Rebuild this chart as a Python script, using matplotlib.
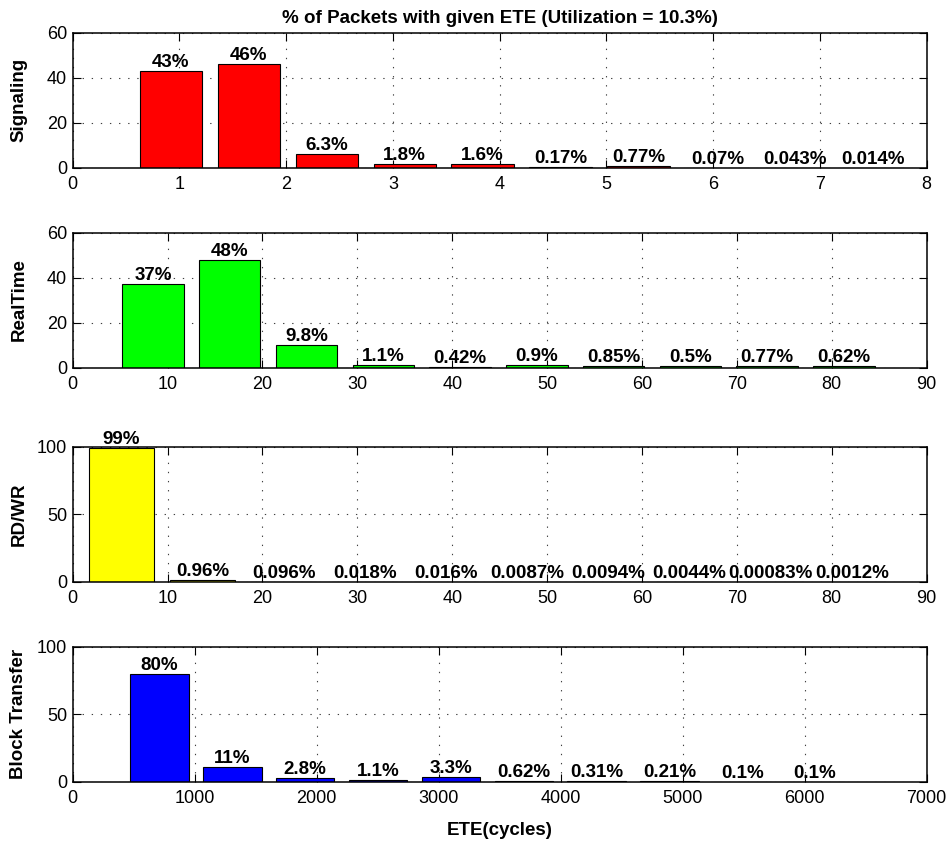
import numpy as np
import matplotlib
matplotlib.use('Agg')
import matplotlib.pyplot as plt

plt.rcParams['font.family'] = ['Liberation Sans', 'DejaVu Sans']

# ETE histogram bin centres (cycles) and % of packets per bin, per traffic class
sig_ete = [0.92, 1.65, 2.38, 3.11, 3.84, 4.57, 5.30, 6.04, 6.77, 7.50]
sig_pct = [43, 46, 6.3, 1.8, 1.6, 0.17, 0.77, 0.07, 0.043, 0.014]

rt_ete = [8.46, 16.55, 24.64, 32.73, 40.82, 48.91, 57.0, 65.09, 73.18, 81.27]
rt_pct = [37, 48, 9.8, 1.1, 0.42, 0.9, 0.85, 0.5, 0.77, 0.62]

rw_ete = [5.10, 13.66, 22.22, 30.78, 39.34, 47.90, 56.46, 65.02, 73.58, 82.14]
rw_pct = [99, 0.96, 0.096, 0.018, 0.016, 0.0087, 0.0094, 0.0044, 0.00083, 0.0012]

bt_ete = [712, 1309, 1906, 2503, 3100, 3697, 4294, 4891, 5488, 6085]
bt_pct = [80, 11, 2.8, 1.1, 3.3, 0.62, 0.31, 0.21, 0.1, 0.1]

panels = [
    ('Signaling', sig_ete, sig_pct, 'red', (0, 8), np.arange(0, 9, 1), (0, 60), [0, 20, 40, 60]),
    ('RealTime', rt_ete, rt_pct, 'lime', (0, 90), np.arange(0, 91, 10), (0, 60), [0, 20, 40, 60]),
    ('RD/WR', rw_ete, rw_pct, 'yellow', (0, 90), np.arange(0, 91, 10), (0, 100), [0, 50, 100]),
    ('Block Transfer', bt_ete, bt_pct, 'blue', (0, 7000), np.arange(0, 7001, 1000), (0, 100), [0, 50, 100]),
]

W, H = 950, 843
fig = plt.figure(figsize=(W / 100, H / 100), dpi=100)
left, right = 72.7, 926.7
tops = [32.7, 232.5, 446.7, 646.7]
ax_h = 135.0

axes = []
for (name, ete, pct, color, xl, xt, yl, yt), top in zip(panels, tops):
    ax = fig.add_axes([left / W, 1 - (top + ax_h) / H, (right - left) / W, ax_h / H])
    axes.append(ax)
    width = 0.8 * (ete[1] - ete[0])
    ax.bar(ete, pct, width=width, color=color, edgecolor='black', linewidth=0.8, zorder=2)
    for x, v in zip(ete, pct):
        ax.annotate('%.2g%%' % v, (x, v), xytext=(0, 4), textcoords='offset pixels',
                    ha='center', va='baseline', fontsize=13.5, fontweight='bold',
                    zorder=5, annotation_clip=False)
    ax.set_xlim(*xl)
    ax.set_ylim(*yl)
    ax.set_xticks(xt)
    ax.set_yticks(yt)
    ax.set_axisbelow(True)
    ax.grid(True, color='0.25', linestyle=(0, (1.2, 7)), linewidth=0.8)
    ax.tick_params(direction='in', top=True, right=True, length=6, width=0.8,
                   labelsize=13)
    ax.tick_params(axis='x', pad=6)
    ax.tick_params(axis='y', pad=4)
    for sp in ax.spines.values():
        sp.set_linewidth(1.1)
        sp.set_zorder(4)
    ax.set_ylabel(name, fontsize=13.5, fontweight='bold')
    ax.yaxis.set_label_coords(-0.053, 0.5)

axes[0].set_title('% of Packets with given ETE (Utilization = 10.3%)',
                  fontsize=13.5, fontweight='bold', pad=7)
axes[-1].set_xlabel('ETE(cycles)', fontsize=13.5, fontweight='bold', labelpad=11)

fig.savefig('out.png', dpi=100)
